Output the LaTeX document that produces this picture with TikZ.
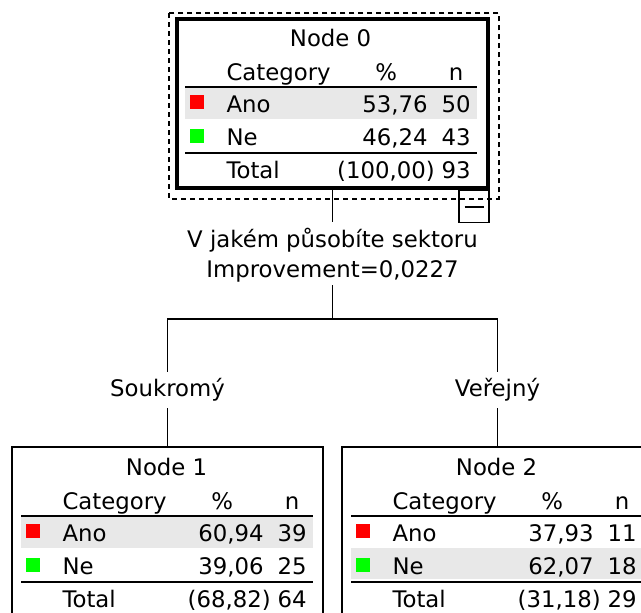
\documentclass[tikz,border=0pt]{standalone}
\usepackage{fontspec}
\setmainfont{DejaVu Sans}
\definecolor{bandgray}{RGB}{232,232,232}
\definecolor{swred}{RGB}{255,0,0}
\definecolor{swgreen}{RGB}{0,255,0}
\newcommand\treecontent[9]{%
\begin{scope}[shift={(#1.north west)}]
  \fill[bandgray] (10,#9) rectangle (302,#9+31);
  \draw[rule] (10,70) -- (302,70);
  \draw[rule] (10,136) -- (302,136);
  \fill[swred] (15,78) rectangle (29,92);
  \fill[swgreen] (15,112) rectangle (29,126);
  \node[txtc] (#1-title) at (155.5,29) {#2};
  \node[txtl] (#1-cat) at (51,63) {Category};
  \node[txtc] (#1-pcth) at (211,63) {\%};
  \node[txtc] (#1-nh) at (281,63) {n};
  \node[txtl] (#1-ano) at (51,95) {Ano};
  \node[txtr] (#1-anop) at (253,95) {#3};
  \node[txtr] (#1-anon) at (296,95) {#4};
  \node[txtl] (#1-ne) at (51,128) {Ne};
  \node[txtr] (#1-nep) at (253,128) {#5};
  \node[txtr] (#1-nen) at (296,128) {#6};
  \node[txtl] (#1-tot) at (51,161) {Total};
  \node[txtr] (#1-totp) at (260,161) {#7};
  \node[txtr] (#1-totn) at (296,161) {#8};
\end{scope}}
\begin{document}
\begin{tikzpicture}[x=0.5pt,y=-0.5pt,
  every node/.style={font=\fontsize{11.4pt}{15pt}\selectfont, text=black},
  tbox/.style={draw, minimum width=155.5pt, minimum height=84.5pt, inner sep=0pt, line width=0.9pt},
  rootbox/.style={tbox, line width=1.9pt},
  txtl/.style={inner sep=0pt, anchor=base west},
  txtr/.style={inner sep=0pt, anchor=base east},
  txtc/.style={inner sep=0pt, anchor=base},
  rule/.style={line width=1pt},
  conn/.style={line width=0.9pt},
  selbox/.style={line width=0.8pt, dash pattern=on 2.5pt off 2pt},
  lbl/.style={inner sep=0pt, anchor=base},
]
\useasboundingbox (0,0) rectangle (641,613);
\clip (0,0) rectangle (641,613);
\fill[white] (0,0) rectangle (641,613);

% tree nodes
\node[rootbox] (n0) at (332.5,103.5) {};
\node[tbox] (n1) at (167.5,531.5) {};
\node[tbox] (n2) at (497.5,531.5) {};

\treecontent{n0}{Node 0}{53,76}{50}{46,24}{43}{(100,00)}{93}{71}
\treecontent{n1}{Node 1}{60,94}{39}{39,06}{25}{(68,82)}{64}{71}
\treecontent{n2}{Node 2}{37,93}{11}{62,07}{18}{(31,18)}{29}{102}

% selection frame and collapse button
\draw[selbox] ([shift={(-6,-4)}]n0.north west) rectangle ([shift={(9,9)}]n0.south east);
\node[draw, line width=0.8pt, anchor=north east, minimum width=15pt, minimum height=16pt, inner sep=0pt] (btn) at (n0.south east) {};
\draw[line width=1pt] ([xshift=-4.75pt]btn.center) -- ([xshift=4.75pt]btn.center);

% split labels
\node[lbl, text height=13pt, text depth=1pt] (spl1) at (332.5,248) {V jakém působíte sektoru};
\node[lbl, text height=8pt, text depth=3.5pt] (spl2) at (332.5,278) {Improvement=0,0227};
\coordinate (j) at (332.5,319);
\node[lbl, text height=12.5pt, text depth=5.5pt] (lab1) at (167.5,397) {Soukromý};
\node[lbl, text height=12.5pt, text depth=5.5pt] (lab2) at (497.5,397) {Veřejný};

% connectors
\draw[conn] (n0.south) -- (spl1.north);
\draw[conn] (spl2.south) -- (j);
\draw[conn] (lab1.north) |- (j) -| (lab2.north);
\draw[conn] (lab1.south) -- (n1.north);
\draw[conn] (lab2.south) -- (n2.north);
\end{tikzpicture}
\end{document}
